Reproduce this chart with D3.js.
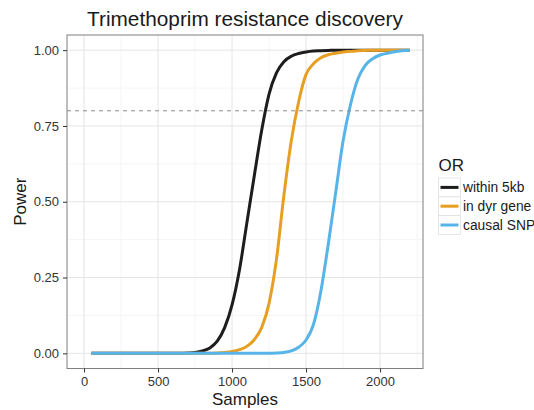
<!DOCTYPE html>
<html>
<head>
<meta charset="utf-8">
<script src="https://cdn.jsdelivr.net/npm/d3@7"></script>
<style>
  body { margin: 0; background: #fff; }
  svg { display: block; font-family: "Liberation Sans", Arial, sans-serif; }
</style>
</head>
<body>
<div id="chart"></div>
<script>
// Data
var samples = [50, 100, 150, 200, 250, 300, 350, 400, 450, 500, 550, 600, 650, 700, 750,
    800, 850, 900, 950, 1000, 1050, 1100, 1150, 1200, 1250, 1300, 1350, 1400, 1450, 1500,
    1550, 1600, 1650, 1700, 1750, 1800, 1850, 1900, 1950, 2000, 2050, 2100, 2150, 2200];

var within5kb = [0, 0, 0, 0, 0, 0, 0, 0, 0, 0, 0, 0, 0, 0.001, 0.003,
    0.008, 0.018, 0.04, 0.085, 0.16, 0.275, 0.43, 0.585, 0.735, 0.855, 0.925, 0.962, 0.98, 0.989, 0.994,
    0.997, 0.998, 0.999, 1, 1, 1, 1, 1, 1, 1, 1, 1, 1, 1];

var inDyrGene = [0, 0, 0, 0, 0, 0, 0, 0, 0, 0, 0, 0, 0, 0, 0,
    0, 0, 0.001, 0.003, 0.006, 0.012, 0.023, 0.045, 0.085, 0.165, 0.31, 0.52, 0.70, 0.83, 0.92,
    0.955, 0.975, 0.985, 0.99, 0.994, 0.996, 0.998, 0.999, 1, 1, 1, 1, 1, 1];

var causalSNP = [0, 0, 0, 0, 0, 0, 0, 0, 0, 0, 0, 0, 0, 0, 0,
    0, 0, 0, 0, 0, 0, 0, 0, 0, 0, 0.001, 0.003, 0.008, 0.02, 0.044,
    0.095, 0.205, 0.36, 0.53, 0.70, 0.82, 0.905, 0.95, 0.972, 0.984, 0.99, 0.995, 0.998, 1];

var seriesNames = ['within 5kb', 'in dyr gene', 'causal SNP'];
var seriesColors = ['#1f1c1d', '#e69f22', '#56b4e9'];
var xTicks = [0, 500, 1000, 1500, 2000];
var yTicks = [0, 0.25, 0.5, 0.75, 1];
var threshold = 0.8;

var width = 534, height = 410;
var panel = {left: 67, right: 423, top: 35, bottom: 368.5};

var svg = d3.select('#chart').append('svg')
    .attr('width', width)
    .attr('height', height);

var x = d3.scaleLinear().domain([-115, 2290]).range([panel.left, panel.right]);
var y = d3.scaleLinear().domain([-0.05, 1.05]).range([panel.bottom, panel.top]);

// Grid
var grid = svg.append('g');
grid.selectAll('.xminor')
    .data([250, 750, 1250, 1750, 2250])
    .enter().append('line')
    .attr('x1', function(d) { return x(d); })
    .attr('x2', function(d) { return x(d); })
    .attr('y1', panel.top).attr('y2', panel.bottom)
    .style('stroke', '#f5f5f5').style('stroke-width', 1);
grid.selectAll('.yminor')
    .data([0.125, 0.375, 0.625, 0.875])
    .enter().append('line')
    .attr('x1', panel.left).attr('x2', panel.right)
    .attr('y1', function(d) { return y(d); })
    .attr('y2', function(d) { return y(d); })
    .style('stroke', '#f5f5f5').style('stroke-width', 1);
grid.selectAll('.xmajor')
    .data(xTicks)
    .enter().append('line')
    .attr('x1', function(d) { return x(d); })
    .attr('x2', function(d) { return x(d); })
    .attr('y1', panel.top).attr('y2', panel.bottom)
    .style('stroke', '#e5e5e5').style('stroke-width', 1);
grid.selectAll('.ymajor')
    .data(yTicks)
    .enter().append('line')
    .attr('x1', panel.left).attr('x2', panel.right)
    .attr('y1', function(d) { return y(d); })
    .attr('y2', function(d) { return y(d); })
    .style('stroke', '#e5e5e5').style('stroke-width', 1);

// Lines
var series = [within5kb, inDyrGene, causalSNP];
var line = d3.line()
    .x(function(d, i) { return x(samples[i]); })
    .y(function(d) { return y(d); })
    .curve(d3.curveMonotoneX);

svg.append('g').selectAll('path')
    .data(series)
    .enter().append('path')
    .attr('d', line)
    .style('fill', 'none')
    .style('stroke', function(d, i) { return seriesColors[i]; })
    .style('stroke-width', 3);

// Threshold
svg.append('line')
    .attr('x1', panel.left).attr('x2', panel.right)
    .attr('y1', y(threshold)).attr('y2', y(threshold))
    .style('stroke', '#8a8a8a')
    .style('stroke-width', 1)
    .style('stroke-dasharray', '4,4');

// Border
svg.append('rect')
    .attr('x', panel.left).attr('y', panel.top)
    .attr('width', panel.right - panel.left)
    .attr('height', panel.bottom - panel.top)
    .style('fill', 'none')
    .style('stroke', '#7f7f7f')
    .style('stroke-width', 1);

// Axes
var xAxis = svg.append('g')
    .attr('transform', 'translate(0,' + panel.bottom + ')')
    .call(d3.axisBottom(x).tickValues(xTicks).tickFormat(d3.format('d')).tickSize(4).tickPadding(4));
var yAxis = svg.append('g')
    .attr('transform', 'translate(' + panel.left + ',0)')
    .call(d3.axisLeft(y).tickValues(yTicks).tickFormat(d3.format('.2f')).tickSize(4).tickPadding(4));
[xAxis, yAxis].forEach(function(a) {
    a.select('.domain').remove();
    a.selectAll('line').style('stroke', '#333');
    a.selectAll('text')
        .style('font-family', '"Liberation Sans", Arial, sans-serif')
        .style('font-size', '13px')
        .style('fill', '#333');
});

// Titles
svg.append('text')
    .text('Trimethoprim resistance discovery')
    .attr('x', (panel.left + panel.right) / 2)
    .attr('y', 26)
    .attr('text-anchor', 'middle')
    .attr('font-size', '20.8px')
    .style('fill', '#1a1a1a');

svg.append('text')
    .text('Samples')
    .attr('x', (panel.left + panel.right) / 2)
    .attr('y', 405)
    .attr('text-anchor', 'middle')
    .attr('font-size', '17px')
    .style('fill', '#1a1a1a');

svg.append('text')
    .text('Power')
    .attr('text-anchor', 'middle')
    .attr('font-size', '17px')
    .style('fill', '#1a1a1a')
    .attr('transform', 'translate(26,' + (panel.top + panel.bottom) / 2 + ')rotate(-90)');

// Legend
var legend_x = 438.5, legend_y = 178, key = 18.8;
svg.append('text')
    .text('OR')
    .attr('x', legend_x)
    .attr('y', 171)
    .attr('font-size', '17px')
    .style('fill', '#1a1a1a');

var keys = svg.append('g').selectAll('g')
    .data(seriesNames)
    .enter().append('g')
    .attr('transform', function(d, i) { return 'translate(' + legend_x + ',' + (legend_y + i * key) + ')'; });
keys.append('rect')
    .attr('width', 22).attr('height', key)
    .style('fill', '#fff')
    .style('stroke', '#e0e0e0')
    .style('stroke-width', 0.8);
keys.append('line')
    .attr('x1', 2).attr('x2', 20)
    .attr('y1', key / 2).attr('y2', key / 2)
    .style('stroke', function(d, i) { return seriesColors[i]; })
    .style('stroke-width', 3);
keys.append('text')
    .text(function(d) { return d; })
    .attr('x', 24.5)
    .attr('y', key / 2 + 4.8)
    .attr('font-size', '13.8px')
    .style('fill', '#1a1a1a');
</script>
</body>
</html>
